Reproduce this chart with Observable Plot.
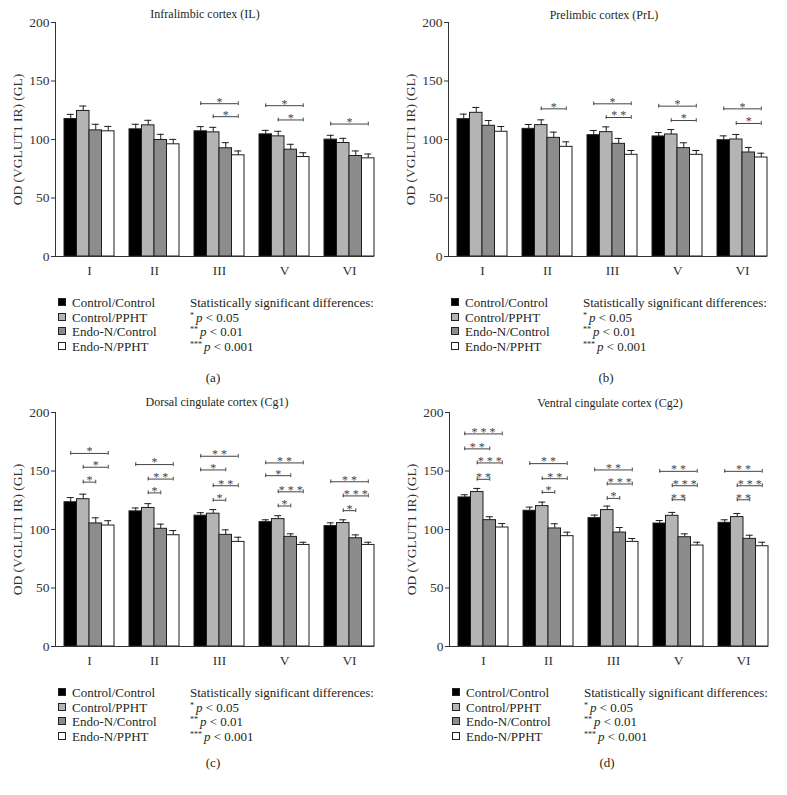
<!DOCTYPE html>
<html><head><meta charset="utf-8">
<script src="https://cdn.jsdelivr.net/npm/d3@7"></script>
<script src="https://cdn.jsdelivr.net/npm/@observablehq/plot@0.6"></script>
<style>
body{margin:0;background:#fff;}
#root{position:relative;width:787px;height:795px;font-family:"Liberation Serif",serif;color:#231f20;overflow:hidden;}
.panel{position:absolute;width:393px;height:390px;}
.title{position:absolute;font-size:12px;white-space:nowrap;transform:translate(-50%,-50%);}
.plot{position:absolute;top:0;left:0;}
.leg{position:absolute;font-size:13px;line-height:14.5px;white-space:nowrap;}
.sw{display:inline-block;width:6px;height:6px;border:1px solid #222;margin-right:6px;vertical-align:1px;}
.cap{position:absolute;font-size:13px;transform:translate(-50%,-50%);}
sup{font-size:8px;vertical-align:4px;line-height:0;margin-right:2px;}
</style>
</head><body><div id="root"></div>
<script>
const layers = ["I","II","III","V","VI"];
const groups = ["Control/Control","Control/PPHT","Endo-N/Control","Endo-N/PPHT"];
const groupColors = ["#000000","#b4b4b4","#8c8c8c","#ffffff"];
const titles = ["Infralimbic cortex (IL)","Prelimbic cortex (PrL)","Dorsal cingulate cortex (Cg1)","Ventral cingulate cortex (Cg2)"];
const captions = ["(a)","(b)","(c)","(d)"];
const yTicks = [0,50,100,150,200];
const yLabel = "OD (VGLUT1 IR) (GL)";
const sigTitle = "Statistically significant differences:";
const sigLevels = ["0.05","0.01","0.001"];

// means per group (rows) and cortical layer (columns)
const meansIL  = [[117.5,108.7,107.0,104.4,99.9],[124.4,112.1,106.1,102.7,97.0],[107.8,99.6,92.5,91.3,85.9],[107.0,95.9,86.5,85.0,83.9]];
const errsIL   = [[4.0,4.3,4.0,3.4,3.7],[4.2,4.3,4.3,4.3,4.0],[5.2,4.8,4.8,4.6,4.3],[4.2,4.2,3.7,3.7,3.7]];
const meansPrL = [[117.4,109.1,103.7,102.6,99.4],[122.8,112.3,106.3,104.3,100.0],[111.7,101.4,96.3,92.6,88.9],[106.6,93.7,86.9,86.9,84.6]];
const errsPrL  = [[4.3,3.7,4.0,3.4,3.7],[4.6,4.5,4.5,4.2,4.3],[4.5,4.9,4.6,4.6,4.3],[4.5,4.3,3.7,3.7,3.7]];
const meansCg1 = [[123.3,115.5,111.8,106.3,102.9],[125.9,118.4,113.5,108.9,105.5],[105.2,100.6,95.4,93.7,92.5],[103.4,95.1,89.4,86.8,86.8]];
const errsCg1  = [[4.0,2.9,2.6,2.0,2.8],[4.3,3.7,3.5,2.9,2.8],[4.8,4.0,4.3,2.6,2.9],[4.1,4.0,4.0,2.3,2.3]];
const meansCg2 = [[127.4,116.0,109.7,105.1,105.7],[132.0,120.0,116.6,111.7,110.6],[108.0,100.9,97.4,93.4,92.0],[101.7,94.3,89.4,86.3,85.7]];
const errsCg2  = [[2.3,3.1,2.6,2.6,2.6],[3.1,3.4,3.4,2.9,3.1],[2.9,4.0,4.3,2.9,3.1],[3.4,3.4,2.9,2.8,3.4]];

// significance brackets: [layer, fromGroup, toGroup, height, stars]
const sigIL  = [["III",0,3,130.6,1],["III",1,3,119.5,1],["V",0,3,128.9,1],["V",1,3,116.7,1],["VI",0,3,113.2,1]];
const sigPrL = [["II",1,3,126.2,1],["III",0,3,130.5,1],["III",1,3,118.8,2],["V",0,3,128.5,1],["V",1,3,116.2,1],["VI",0,3,126.2,1],["VI",1,3,113.7,1]];
const sigCg1 = [["I",0,3,165,1],["I",1,3,153.2,1],["I",1,2,140.5,1],["II",0,3,155.5,1],["II",1,3,143.1,2],["II",1,2,131.3,1],
  ["III",0,3,162.6,2],["III",0,2,150.9,1],["III",1,3,137.4,2],["III",1,2,125,1],["V",0,3,156.9,2],["V",0,2,146,1],["V",1,3,132.2,3],["V",1,2,120.1,1],
  ["VI",0,3,140.8,2],["VI",1,3,128.7,3],["VI",1,2,116.1,1]];
const sigCg2 = [["I",0,3,181.7,3],["I",0,2,168.9,2],["I",1,3,156.9,3],["I",1,2,142.9,2],["II",0,3,156.3,2],["II",1,3,143.4,2],["II",1,2,131.7,1],
  ["III",0,3,150.9,2],["III",1,3,138.9,3],["III",1,2,126.6,1],["V",0,3,149.7,2],["V",1,3,137.4,3],["V",1,2,125.4,2],
  ["VI",0,3,149.7,2],["VI",1,3,137.4,3],["VI",1,2,125.4,2]];

const panels = [
  {means: meansIL, errs: errsIL, sig: sigIL, left: 0, top: 0, tx: 205, ty: 14},
  {means: meansPrL, errs: errsPrL, sig: sigPrL, left: 393, top: 0, tx: 211, ty: 15},
  {means: meansCg1, errs: errsCg1, sig: sigCg1, left: 0, top: 390, tx: 217, ty: 12},
  {means: meansCg2, errs: errsCg2, sig: sigCg2, left: 394, top: 390, tx: 216, ty: 13}
];

const root = document.getElementById("root");
const ink = "#1e1e1e";
const sigInk = "#444444";

panels.forEach((p, pi) => {
  const div = document.createElement("div");
  div.className = "panel";
  div.style.left = p.left + "px";
  div.style.top = p.top + "px";
  root.appendChild(div);

  const data = [];
  groups.forEach((g, gi) => layers.forEach((L, li) => data.push({layer: L, group: g, gi, value: p.means[gi][li], err: p.errs[gi][li]})));
  const sig = p.sig.map(([layer, from, to, y, n]) => ({layer, from, to, y, label: Array(n).fill("*").join(" ")}));

  const xOpts = {type: "band", domain: layers, range: [55, 374], paddingInner: 0.2308, paddingOuter: 0.069, align: 1};
  const w = Plot.scale({x: xOpts}).bandwidth / 4;

  const marks = [];
  groups.forEach((g, gi) => {
    const sub = data.filter(d => d.gi === gi);
    marks.push(Plot.ruleX(sub, {x: "layer", y1: "value", y2: d => d.value + d.err, dx: (gi - 1.5) * w, stroke: ink}));
    marks.push(Plot.tickY(sub, {x: "layer", y: d => d.value + d.err, insetLeft: gi * w + w / 2 - 3.5, insetRight: (3 - gi) * w + w / 2 - 3.5, stroke: ink}));
    marks.push(Plot.barY(sub, {x: "layer", y: "value", fill: "group", stroke: ink, strokeWidth: 1, insetLeft: gi * w, insetRight: (3 - gi) * w}));
  });
  [[0,3],[1,3],[1,2],[0,2]].forEach(([a, b]) => {
    const sub = sig.filter(s => s.from === a && s.to === b);
    if (!sub.length) return;
    marks.push(Plot.ruleY(sub, {x1: "layer", x2: "layer", y: "y", insetLeft: (a + 0.5) * w, insetRight: (3 - b + 0.5) * w, stroke: sigInk}));
    marks.push(Plot.ruleX(sub, {x: "layer", y1: d => d.y - 1.6, y2: d => d.y + 1.6, dx: (a - 1.5) * w, stroke: sigInk}));
    marks.push(Plot.ruleX(sub, {x: "layer", y1: d => d.y - 1.6, y2: d => d.y + 1.6, dx: (b - 1.5) * w, stroke: sigInk}));
    marks.push(Plot.text(sub, {x: "layer", y: "y", text: "label", dx: ((a + b) / 2 - 1.5) * w, dy: -2, fill: sigInk, fontSize: 12}));
  });
  marks.push(Plot.ruleY([0], {stroke: "#333"}));

  const chart = Plot.plot({
    width: 390, height: 286,
    marginLeft: 55, marginRight: 16, marginTop: 22, marginBottom: 30,
    style: {fontFamily: "Liberation Serif, serif", fontSize: "13.5px", color: "#333", background: "transparent"},
    x: {...xOpts, label: null, tickSize: 0, tickPadding: 9},
    y: {domain: [0, 200], ticks: yTicks, tickSize: 4, tickPadding: 2, label: yLabel, labelAnchor: "center", labelOffset: 43, labelArrow: "none", line: true},
    color: {domain: groups, range: groupColors},
    marks
  });
  chart.classList.add("plot");
  div.appendChild(chart);

  const t = document.createElement("div");
  t.className = "title";
  t.style.left = p.tx + "px";
  t.style.top = p.ty + "px";
  t.textContent = titles[pi];
  div.appendChild(t);

  const leg = document.createElement("div");
  leg.className = "leg";
  leg.style.left = "58px";
  leg.style.top = "296px";
  groups.forEach((g, gi) => {
    const row = document.createElement("div");
    const sw = document.createElement("span");
    sw.className = "sw";
    sw.style.background = groupColors[gi];
    row.appendChild(sw);
    row.appendChild(document.createTextNode(g));
    leg.appendChild(row);
  });
  div.appendChild(leg);

  const leg2 = document.createElement("div");
  leg2.className = "leg";
  leg2.style.left = "190px";
  leg2.style.top = "296px";
  const head = document.createElement("div");
  head.textContent = sigTitle;
  leg2.appendChild(head);
  sigLevels.forEach((lv, k) => {
    const row = document.createElement("div");
    row.innerHTML = "<sup>" + "*".repeat(k + 1) + "</sup><i>p</i> &lt; " + lv;
    leg2.appendChild(row);
  });
  div.appendChild(leg2);

  const cap = document.createElement("div");
  cap.className = "cap";
  cap.style.left = "213px";
  cap.style.top = (pi < 2 ? 378 : 373) + "px";
  cap.textContent = captions[pi];
  div.appendChild(cap);
});
</script></body></html>
